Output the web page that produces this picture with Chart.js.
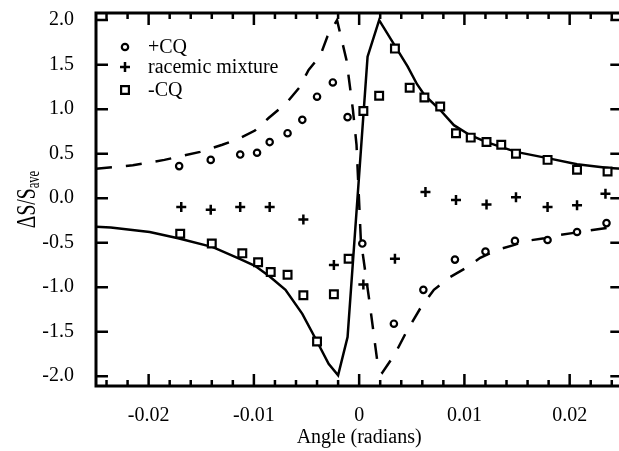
<!DOCTYPE html>
<html>
<head>
<meta charset="utf-8">
<script src="https://cdn.jsdelivr.net/npm/chart.js@4.4.1/dist/chart.umd.min.js"></script>
<style>
html,body{margin:0;padding:0;background:#fff;overflow:hidden;}
</style>
</head>
<body>
<canvas id="chart" width="630" height="451"></canvas>
<script>
// +CQ (circles)
const plusX = [-0.0171, -0.0141, -0.0113, -0.0097, -0.0085, -0.0068, -0.0054, -0.0040, -0.0025, -0.0011,
  0.0003, 0.0033, 0.0061, 0.0091, 0.0120, 0.0148, 0.0179, 0.0207, 0.0235];
const plusY = [0.36, 0.43, 0.49, 0.51, 0.63, 0.73, 0.88, 1.14, 1.30, 0.91,
  -0.51, -1.41, -1.03, -0.69, -0.60, -0.48, -0.47, -0.38, -0.28];

// racemic mixture (crosses)
const racX = [-0.0169, -0.0141, -0.0113, -0.0085, -0.0053, -0.0024, 0.0004, 0.0034,
  0.0063, 0.0092, 0.0121, 0.0149, 0.0179, 0.0207, 0.0234];
const racY = [-0.10, -0.13, -0.10, -0.10, -0.24, -0.75, -0.97, -0.68,
  0.07, -0.02, -0.07, 0.01, -0.10, -0.08, 0.05];

// -CQ (squares)
const minusX = [-0.0170, -0.0140, -0.0111, -0.0096, -0.0084, -0.0068, -0.0053, -0.0040, -0.0024, -0.0010,
  0.0004, 0.0019, 0.0034, 0.0048, 0.0062, 0.0077, 0.0092, 0.0106, 0.0121, 0.0135, 0.0149, 0.0179, 0.0207, 0.0236];
const minusY = [-0.40, -0.51, -0.62, -0.72, -0.83, -0.86, -1.09, -1.61, -1.08, -0.68,
  0.98, 1.15, 1.68, 1.24, 1.13, 1.03, 0.73, 0.68, 0.63, 0.60, 0.50, 0.43, 0.32, 0.30];

// fit curve for -CQ (solid)
const fitMinusX = [-0.025, -0.0236, -0.0199, -0.0172, -0.0139, -0.0114, -0.0099, -0.0085, -0.0070, -0.0054,
  -0.0040, -0.0029, -0.0020, -0.0011, 0.0008, 0.0019, 0.0046, 0.0055, 0.0062, 0.0077, 0.0090,
  0.0105, 0.0121, 0.0149, 0.0179, 0.0207, 0.0237, 0.025];
const fitMinusY = [-0.32, -0.33, -0.38, -0.45, -0.55, -0.68, -0.76, -0.88, -1.03, -1.30,
  -1.61, -1.86, -1.99, -1.56, 1.59, 2.00, 1.48, 1.28, 1.16, 0.99, 0.82,
  0.71, 0.63, 0.52, 0.45, 0.38, 0.34, 0.33];

// fit curve for +CQ (dashed)
const fitPlusX = [-0.025, -0.0215, -0.0185, -0.0151, -0.0130, -0.0114, -0.0099, -0.0086, -0.0069, -0.0057,
  -0.0048, -0.0037, -0.0030, -0.0021, -0.0018, -0.0012, -0.0006, -0.00025, 0.00016, 0.0010, 0.0018,
  0.0022, 0.0034, 0.0045, 0.0058, 0.0071, 0.0086, 0.0102, 0.0115, 0.0131, 0.0146, 0.0159, 0.0176,
  0.0187, 0.0204, 0.0220, 0.025];
const fitPlusY = [0.33, 0.37, 0.43, 0.52, 0.60, 0.67, 0.76, 0.90, 1.07, 1.24,
  1.44, 1.60, 1.82, 2.00, 1.85, 1.55, 1.00, 0.60, -0.47, -1.18, -1.90,
  -1.96, -1.75, -1.50, -1.24, -1.03, -0.89, -0.78, -0.67, -0.58, -0.53, -0.48, -0.45,
  -0.42, -0.39, -0.36, -0.31];

const xTickValues = [-0.02, -0.01, 0, 0.01, 0.02];
const xTickLabels = ['-0.02', '-0.01', '0', '0.01', '0.02'];
const xMinorTicks = [-0.024, -0.022, -0.018, -0.016, -0.014, -0.012, -0.008, -0.006, -0.004, -0.002,
  0.002, 0.004, 0.006, 0.008, 0.012, 0.014, 0.016, 0.018, 0.022, 0.024];
const yTickValues = [-2, -1.5, -1, -0.5, 0, 0.5, 1, 1.5, 2];
const yTickLabels = ['-2.0', '-1.5', '-1.0', '-0.5', '0.0', '0.5', '1.0', '1.5', '2.0'];

const legendItems = ['+CQ', 'racemic mixture', '-CQ'];

const serif = '"Liberation Serif", "DejaVu Serif", serif';

function toPoints(xs, ys){
  return xs.map((x, i) => ({x: x, y: ys[i]}));
}

// box, inward ticks, legend and y title
const framePlugin = {
  id: 'frame',
  afterDraw(chart){
    const c = chart.ctx;
    const a = chart.chartArea;
    const xs = chart.scales.x;
    const ys = chart.scales.y;
    c.save();
    c.strokeStyle = '#000';
    c.lineWidth = 3;
    c.strokeRect(a.left, a.top, a.right - a.left, a.bottom - a.top);

    c.lineWidth = 2.5;
    c.beginPath();
    xTickValues.forEach(v => {
      const px = xs.getPixelForValue(v);
      c.moveTo(px, a.bottom); c.lineTo(px, a.bottom - 12);
      c.moveTo(px, a.top); c.lineTo(px, a.top + 12);
    });
    xMinorTicks.forEach(v => {
      const px = xs.getPixelForValue(v);
      c.moveTo(px, a.bottom); c.lineTo(px, a.bottom - 6);
      c.moveTo(px, a.top); c.lineTo(px, a.top + 6);
    });
    yTickValues.forEach(v => {
      const py = ys.getPixelForValue(v);
      c.moveTo(a.left, py); c.lineTo(a.left + 12, py);
      c.moveTo(a.right, py); c.lineTo(a.right - 12, py);
    });
    c.stroke();

    // legend
    const sets = chart.data.datasets.slice(0, 3);
    c.font = '20px ' + serif;
    c.textBaseline = 'middle';
    c.textAlign = 'left';
    const rowY = [a.top + 34, a.top + 54, a.top + 77];
    sets.forEach((ds, i) => {
      c.fillStyle = ds.pointBackgroundColor;
      c.strokeStyle = '#000';
      c.lineWidth = ds.pointBorderWidth;
      c.beginPath();
      Chart.helpers.drawPoint(c, {
        pointStyle: ds.pointStyle,
        radius: ds.pointRadius,
        borderWidth: ds.pointBorderWidth
      }, a.left + 29, rowY[i]);
      c.fillStyle = '#000';
      c.fillText(legendItems[i], a.left + 52, rowY[i] + 1);
    });

    // y title with subscript
    const main = 'ΔS/S';
    const sub = 'ave';
    c.font = '28px ' + serif;
    const w1 = c.measureText(main).width;
    c.font = '18px ' + serif;
    const w2 = c.measureText(sub).width;
    const sx = 0.7;
    const total = (w1 + w2) * sx;
    const cy = (a.top + a.bottom) / 2;
    c.translate(35, cy + total / 2);
    c.rotate(-Math.PI / 2);
    c.scale(sx, 1);
    c.textBaseline = 'alphabetic';
    c.fillStyle = '#000';
    c.font = '28px ' + serif;
    c.fillText(main, 0, 0);
    c.font = '18px ' + serif;
    c.fillText(sub, w1, 4);
    c.restore();
  }
};

const ctx = document.getElementById('chart');

const chart = new Chart(ctx, {
  type: 'scatter',
  data: {
    datasets: [
      {
        label: '+CQ',
        data: toPoints(plusX, plusY),
        pointStyle: 'circle',
        pointRadius: 3.2,
        pointBorderWidth: 2.2,
        pointBackgroundColor: '#fff',
        pointBorderColor: '#000',
        order: 1
      },
      {
        label: 'racemic mixture',
        data: toPoints(racX, racY),
        pointStyle: 'cross',
        pointRadius: 5,
        pointBorderWidth: 2.5,
        pointBackgroundColor: '#000',
        pointBorderColor: '#000',
        order: 1
      },
      {
        label: '-CQ',
        data: toPoints(minusX, minusY),
        pointStyle: 'rect',
        pointRadius: 5.5,
        pointBorderWidth: 2.2,
        pointBackgroundColor: '#fff',
        pointBorderColor: '#000',
        order: 1
      },
      {
        label: 'fit -CQ',
        data: toPoints(fitMinusX, fitMinusY),
        showLine: true,
        pointRadius: 0,
        borderColor: '#000',
        borderWidth: 2.5,
        tension: 0,
        fill: false,
        order: 2
      },
      {
        label: 'fit +CQ',
        data: toPoints(fitPlusX, fitPlusY),
        showLine: true,
        pointRadius: 0,
        borderColor: '#000',
        borderWidth: 2.5,
        borderDash: [16, 14],
        tension: 0,
        fill: false,
        order: 2
      }
    ]
  },
  options: {
    responsive: false,
    animation: false,
    devicePixelRatio: 1,
    layout: {padding: {top: 13, right: 4, bottom: 0, left: 0}},
    plugins: {
      legend: {display: false},
      tooltip: {enabled: false}
    },
    scales: {
      x: {
        type: 'linear',
        min: -0.025,
        max: 0.025,
        grid: {display: false, drawTicks: false},
        border: {display: false},
        afterBuildTicks(scale){
          scale.ticks = xTickValues.map(v => ({value: v}));
        },
        afterFit(scale){
          scale.height = 65;
          scale.paddingLeft = 0;
          scale.paddingRight = 0;
        },
        ticks: {
          autoSkip: false,
          maxRotation: 0,
          padding: 18,
          color: '#000',
          font: {family: serif, size: 20},
          callback: (v, i) => xTickLabels[i]
        },
        title: {
          display: true,
          text: 'Angle (radians)',
          color: '#000',
          font: {family: serif, size: 20},
          padding: {top: 0, bottom: 1}
        }
      },
      y: {
        type: 'linear',
        min: -2.11,
        max: 2.08,
        grid: {display: false, drawTicks: false},
        border: {display: false},
        afterBuildTicks(scale){
          scale.ticks = yTickValues.map(v => ({value: v}));
        },
        afterFit(scale){
          scale.width = 96;
          scale.paddingTop = 0;
          scale.paddingBottom = 0;
        },
        ticks: {
          autoSkip: false,
          padding: 22,
          color: '#000',
          font: {family: serif, size: 20},
          callback: (v, i) => yTickLabels[i]
        }
      }
    }
  },
  plugins: [framePlugin]
});
</script>
</body>
</html>
